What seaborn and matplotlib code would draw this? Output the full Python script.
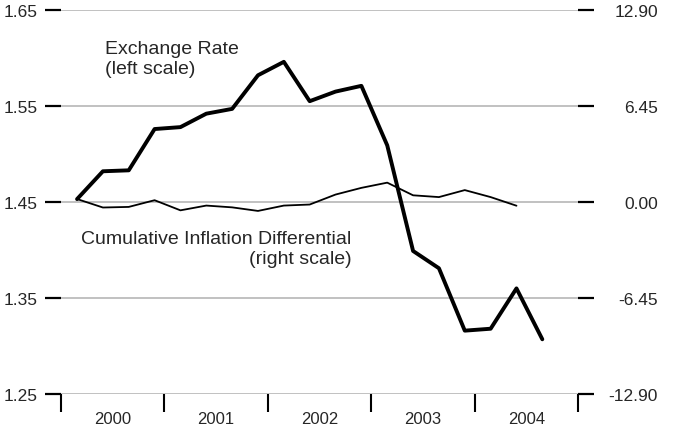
import matplotlib
matplotlib.use('Agg')
import matplotlib.pyplot as plt
import seaborn as sns
import numpy as np

# quarterly data, 2000Q1 - 2004Q3
quarters = ['2000Q1', '2000Q2', '2000Q3', '2000Q4',
            '2001Q1', '2001Q2', '2001Q3', '2001Q4',
            '2002Q1', '2002Q2', '2002Q3', '2002Q4',
            '2003Q1', '2003Q2', '2003Q3', '2003Q4',
            '2004Q1', '2004Q2', '2004Q3']
exchange_rate = [1.453, 1.482, 1.483, 1.526, 1.528, 1.542, 1.547, 1.582, 1.596,
                 1.555, 1.565, 1.571, 1.509, 1.399, 1.381, 1.316, 1.318, 1.360, 1.307]
# inflation differential ends one quarter earlier
inflation_diff = [0.2, -0.37, -0.33, 0.12, -0.56, -0.24, -0.36, -0.6, -0.24,
                  -0.17, 0.5, 0.95, 1.3, 0.45, 0.33, 0.8, 0.33, -0.25]

years = [2000, 2001, 2002, 2003, 2004]
left_ticks = [1.25, 1.35, 1.45, 1.55, 1.65]
right_ticks = [-12.90, -6.45, 0.00, 6.45, 12.90]


def quarter_pos(q):
    # decimal year, point sits a bit into each quarter
    return int(q[:4]) + (int(q[-1]) - 1) / 4 + 0.155


x_er = np.array([quarter_pos(q) for q in quarters])
x_inf = x_er[:len(inflation_diff)]

sns.set_style('white')
plt.rcParams['font.family'] = ['Liberation Sans', 'DejaVu Sans']

fig = plt.figure(figsize=(6.78, 4.31), dpi=100)
ax = fig.add_axes([0.09, 0.0835, 0.7625, 0.891])
ax2 = ax.twinx()
ax.set_zorder(2)
ax.patch.set_visible(False)

sns.lineplot(x=x_inf, y=inflation_diff, ax=ax2, color='black', linewidth=1.3)
sns.lineplot(x=x_er, y=exchange_rate, ax=ax, color='black', linewidth=2.8)

ax.set_xlim(2000, 2005)
ax.set_ylim(1.25, 1.65)
ax2.set_ylim(-12.9, 12.9)

for a in (ax, ax2):
    for s in a.spines.values():
        s.set_visible(False)
    a.set_xlabel('')
    a.set_ylabel('')

ax2.yaxis.grid(True, color='#b0b0b0', linewidth=1.1)
ax2.set_axisbelow(True)

ax.set_yticks(left_ticks)
ax.set_yticklabels([f'{v:.2f}' for v in left_ticks])
ax.tick_params(axis='y', which='major', direction='out', length=11.5, width=1.6,
               color='black', pad=5.5, labelsize=12.5, left=True)

ax2.set_yticks(right_ticks)
ax2.set_yticklabels([f'{v:.2f}' for v in right_ticks], ha='right')
ax2.tick_params(axis='y', which='major', direction='out', length=11.5, width=1.6,
                color='black', pad=46, labelsize=12.5, right=True)

ax.set_xticks(list(range(2000, 2006)))
ax.set_xticklabels([])
ax.set_xticks([y + 0.5 for y in years], minor=True)
ax.set_xticklabels([str(y) for y in years], minor=True)
ax.tick_params(axis='x', which='major', direction='out', length=13, width=1.5,
               color='black', bottom=True)
ax.tick_params(axis='x', which='minor', length=0, pad=12, labelsize=12)

ax.text(2000.425, 1.5995, 'Exchange Rate\n(left scale)', fontsize=14,
        ha='left', va='center', linespacing=1.25)
ax.text(2002.81, 1.4016, 'Cumulative Inflation Differential\n(right scale)', fontsize=14,
        ha='right', va='center', multialignment='right', linespacing=1.25)

fig.savefig('out.png', dpi=100)
